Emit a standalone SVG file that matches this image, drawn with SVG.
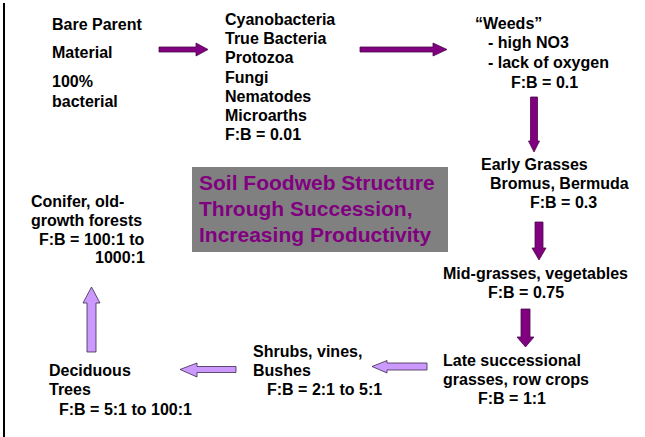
<svg xmlns="http://www.w3.org/2000/svg" width="645" height="437" viewBox="0 0 645 437">
  <style>
    .t { font-family: "Liberation Sans", Arial, sans-serif; font-size: 16px; font-weight: bold; fill: #000; }
    .title { font-family: "Liberation Sans", Arial, sans-serif; font-size: 21px; font-weight: bold; fill: #800080; }
    .dark { fill: #800080; stroke: #4a0a4a; stroke-width: 0.8; }
    .light { fill: #cc99ff; stroke: #3a2a4a; stroke-width: 0.8; }
  </style>
  <rect x="0" y="0" width="645" height="437" fill="#fff"/>
  <!-- slide edge -->
  <line x1="4" y1="3" x2="4" y2="437" stroke="#000" stroke-width="2"/>

  <g id="title">
    <rect x="192" y="167" width="256" height="85" fill="#808080"/>
    <text class="title" x="199" y="190">Soil Foodweb Structure</text>
    <text class="title" x="199" y="216">Through Succession,</text>
    <text class="title" x="199" y="242">Increasing Productivity</text>
  </g>

  <g id="bare-parent">
    <text class="t" x="52" y="30">Bare Parent</text>
    <text class="t" x="52" y="58">Material</text>
    <text class="t" x="52" y="87">100%</text>
    <text class="t" x="52" y="107">bacterial</text>
  </g>

  <g id="microbes">
    <text class="t" x="225" y="25">Cyanobacteria</text>
    <text class="t" x="225" y="44">True Bacteria</text>
    <text class="t" x="225" y="63">Protozoa</text>
    <text class="t" x="225" y="83">Fungi</text>
    <text class="t" x="225" y="102">Nematodes</text>
    <text class="t" x="225" y="121">Microarths</text>
    <text class="t" x="225" y="140">F:B = 0.01</text>
  </g>

  <g id="weeds">
    <text class="t" x="475" y="29">“Weeds”</text>
    <text class="t" x="488" y="48">- high NO3</text>
    <text class="t" x="488" y="68">- lack of oxygen</text>
    <text class="t" x="511" y="88">F:B = 0.1</text>
  </g>

  <g id="early-grasses">
    <text class="t" x="481" y="170">Early Grasses</text>
    <text class="t" x="490" y="189">Bromus, Bermuda</text>
    <text class="t" x="530" y="208">F:B = 0.3</text>
  </g>

  <g id="mid-grasses">
    <text class="t" x="443" y="279">Mid-grasses, vegetables</text>
    <text class="t" x="488" y="298">F:B = 0.75</text>
  </g>

  <g id="late-successional">
    <text class="t" x="443" y="366">Late successional</text>
    <text class="t" x="443" y="385">grasses, row crops</text>
    <text class="t" x="478" y="404">F:B = 1:1</text>
  </g>

  <g id="shrubs">
    <text class="t" x="253" y="357">Shrubs, vines,</text>
    <text class="t" x="253" y="376">Bushes</text>
    <text class="t" x="267" y="395">F:B = 2:1 to 5:1</text>
  </g>

  <g id="deciduous">
    <text class="t" x="49" y="376">Deciduous</text>
    <text class="t" x="49" y="395">Trees</text>
    <text class="t" x="59" y="415">F:B = 5:1 to 100:1</text>
  </g>

  <g id="conifer">
    <text class="t" x="31" y="207">Conifer, old-</text>
    <text class="t" x="31" y="226">growth forests</text>
    <text class="t" x="39" y="245">F:B = 100:1 to</text>
    <text class="t" x="95" y="263">1000:1</text>
  </g>

  <g id="connectors">
    <!-- bare parent -> microbes -->
    <polygon class="dark" points="159,47 196,47 196,43 208,49.5 196,56 196,52 159,52"/>
    <!-- microbes -> weeds -->
    <polygon class="dark" points="360,47 433,47 433,43 447,49.5 433,56 433,52 360,52"/>
    <!-- weeds -> early grasses -->
    <polygon class="dark" points="530.5,97 537.5,97 537.5,141 539.5,141 534,152 528.5,141 530.5,141"/>
    <!-- early grasses -> mid-grasses -->
    <polygon class="dark" points="535,222 543,222 543,248 546,248 539,260 532,248 535,248"/>
    <!-- mid-grasses -> late successional -->
    <polygon class="dark" points="521,309 530,309 530,337 534,337 525.5,347 517,337 521,337"/>
    <!-- late successional -> shrubs -->
    <polygon class="light" points="427,363 387,363 387,360.5 372,366.5 387,373 387,370 427,370"/>
    <!-- shrubs -> deciduous -->
    <polygon class="light" points="236,366.5 197,366.5 197,363 180,369.5 197,377 197,372.5 236,372.5"/>
    <!-- deciduous -> conifer -->
    <polygon class="light" points="87,352 96,352 96,303 100,303 91.5,287 83,303 87,303"/>
  </g>
</svg>
